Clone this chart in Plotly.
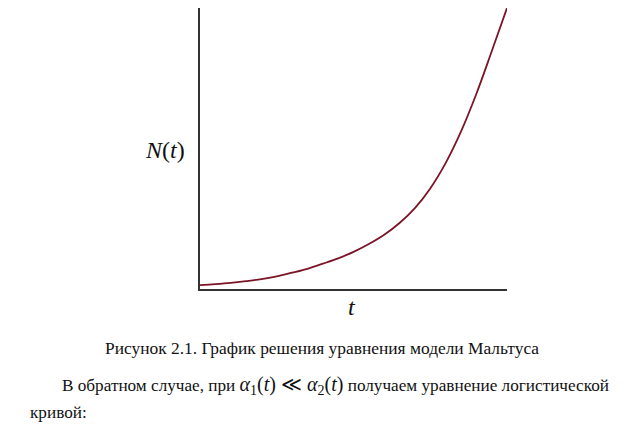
import plotly.graph_objects as go

# Data (t in arbitrary units, N in % of axis height)
t_values = [0, 0.5, 1, 1.5, 2, 2.5, 3, 3.5, 4, 4.5, 5, 5.5, 6, 6.5, 7, 7.5, 8, 8.5, 9, 9.5, 10]
n_values = [1.4, 1.75, 2.2, 2.8, 3.5, 4.5, 5.8, 7.2, 9.0, 10.9, 13.2, 16.0, 19.3, 23.5,
            28.8, 35.8, 44.8, 56, 69.4, 84.5, 100]

y_label = "<i>N</i>(<i>t</i>)"
x_label = "<i>t</i>"
caption = "Рисунок 2.1. График решения уравнения модели Мальтуса"
para_line1 = ("В обратном случае, при "
              "<span style='font-size:20px'><i>α</i><sub>1</sub>(<i>t</i>) ≪ <i>α</i><sub>2</sub>(<i>t</i>)</span>"
              " получаем уравнение логистической")
para_line2 = "кривой:"

# The page body keeps its default 8px margin, so the figure starts at (8, 8)
OFF = 8
W, H = 625 - OFF, 425 - OFF
L, R, T, B = 200, 507, OFF, 289   # plot area in page pixels

def px(x):
    return (x - L) / (R - L)

def py(y):
    return (B - y) / (B - T)

fig = go.Figure()
fig.add_trace(go.Scatter(
    x=t_values, y=n_values, mode="lines",
    line=dict(color="#7b1526", width=1.8, shape="spline", smoothing=1.0),
    showlegend=False, hoverinfo="skip",
))

serif = "Liberation Serif"
specs = [
    (y_label, 165, 150, "center", 24),
    (x_label, 352, 307, "center", 24),
    (caption, 322, 348, "center", 17.4),
    (para_line1, 60, 385, "left", 17.2),
    (para_line2, 28, 412, "left", 17.2),
]
for text, x, y, anchor, size in specs:
    fig.add_annotation(text=text, x=px(x), y=py(y), xref="paper", yref="paper",
                       xanchor=anchor, yanchor="middle", showarrow=False,
                       font=dict(family=serif, size=size, color="#111"))

fig.update_layout(
    width=W, height=H,
    margin=dict(l=L - OFF, r=W - (R - OFF), t=T - OFF, b=H - (B - OFF), pad=0),
    paper_bgcolor="white", plot_bgcolor="white",
    xaxis=dict(range=[0, 10], showgrid=False, zeroline=False, showticklabels=False,
               ticks="", showline=True, linecolor="#333", linewidth=1.5, mirror=False),
    yaxis=dict(range=[0, 100], showgrid=False, zeroline=False, showticklabels=False,
               ticks="", showline=True, linecolor="#333", linewidth=1.5, mirror=False),
)

fig.write_html("out.html", config={"displayModeBar": False})
